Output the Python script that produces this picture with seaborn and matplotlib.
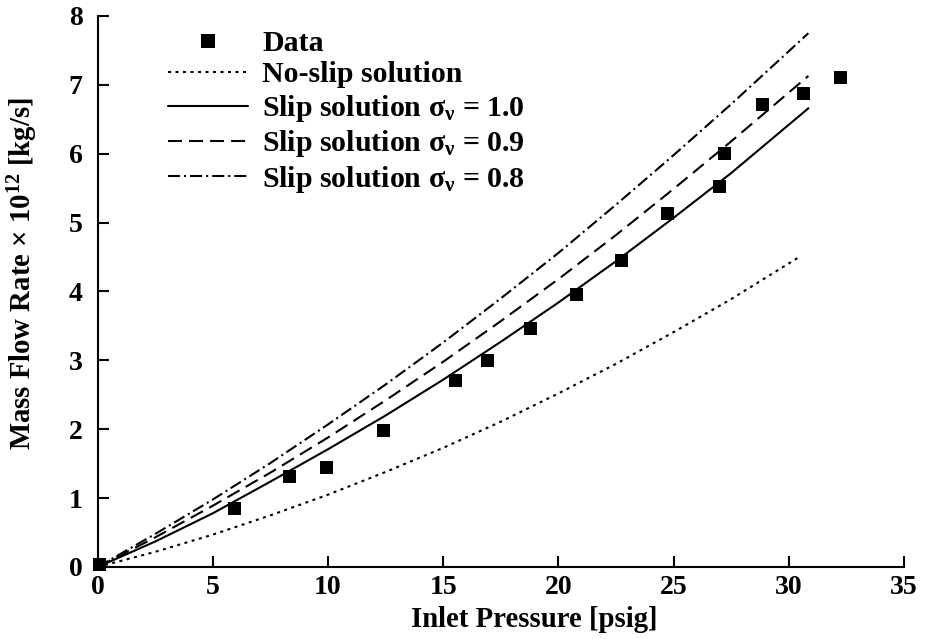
import matplotlib
matplotlib.use("Agg")
import matplotlib.pyplot as plt
from matplotlib.lines import Line2D
import pandas as pd
import seaborn as sns

# Measured mass flow rates
pressure_data = [0.1, 5.95, 8.31, 9.93, 12.39, 15.54, 16.94, 18.80, 20.80,
                 22.75, 24.74, 27.00, 27.22, 28.86, 30.64, 32.25]
flow_data = [0.03, 0.85, 1.31, 1.44, 1.98, 2.71, 3.00, 3.46, 3.95,
             4.45, 5.13, 5.53, 6.00, 6.71, 6.87, 7.11]

# Model curves
pressure_noslip = [0, 2.5, 5, 7.5, 10, 12.5, 15, 17.5, 20, 22.5, 25, 27.5, 30.4]
flow_noslip = [0, 0.22, 0.47, 0.75, 1.05, 1.38, 1.73, 2.11, 2.52, 2.95, 3.41, 3.89, 4.49]

pressure_slip = [0, 2.5, 5, 7.5, 10, 12.5, 15, 17.5, 20, 22.5, 25, 27.5, 30.85]
flow_slip_10 = [0, 0.37, 0.78, 1.24, 1.71, 2.20, 2.72, 3.27, 3.84, 4.44, 5.07, 5.72, 6.66]
flow_slip_09 = [0, 0.43, 0.89, 1.37, 1.88, 2.42, 2.98, 3.57, 4.18, 4.82, 5.49, 6.18, 7.13]
flow_slip_08 = [0, 0.48, 0.98, 1.51, 2.07, 2.65, 3.26, 3.90, 4.56, 5.26, 5.98, 6.72, 7.75]

x_ticks = [0, 5, 10, 15, 20, 25, 30, 35]
y_ticks = [0, 1, 2, 3, 4, 5, 6, 7, 8]

labels = [
    "Data",
    "No-slip solution",
    r"Slip solution σ$_{\mathrm{ν}}$ = 1.0",
    r"Slip solution σ$_{\mathrm{ν}}$ = 0.9",
    r"Slip solution σ$_{\mathrm{ν}}$ = 0.8",
]

sns.set_theme(style="ticks")
plt.rcParams["font.family"] = ["Liberation Serif", "DejaVu Serif"]
plt.rcParams["font.weight"] = "bold"
plt.rcParams["axes.labelweight"] = "bold"
plt.rcParams["mathtext.fontset"] = "custom"
plt.rcParams["mathtext.rm"] = "Liberation Serif:bold"
plt.rcParams["mathtext.it"] = "Liberation Serif:italic:bold"
plt.rcParams["mathtext.bf"] = "Liberation Serif:bold"
for key in ("text.color", "axes.labelcolor", "xtick.color", "ytick.color",
            "axes.edgecolor"):
    plt.rcParams[key] = "black"

FS = 20
LEG_FS = 21.5
LW = 1.5

fig = plt.figure(figsize=(9.52, 6.39), dpi=100)
ax = fig.add_axes([0.1026, 0.1127, 0.8470, 0.8623])

styles = [
    (pressure_noslip, flow_noslip, (1.45, 2.15)),
    (pressure_slip, flow_slip_10, None),
    (pressure_slip, flow_slip_09, (6.7, 3.4)),
    (pressure_slip, flow_slip_08, (5.8, 1.9, 1.0, 1.9)),
]
handles = []
for xs, ys, dash in styles:
    df = pd.DataFrame({"p": xs, "m": ys})
    sns.lineplot(data=df, x="p", y="m", ax=ax, color="black", linewidth=LW,
                 estimator=None, sort=True)
    line = ax.lines[-1]
    h = Line2D([], [], color="black", linewidth=LW)
    if dash:
        line.set_dashes(dash)
        h.set_dashes(dash)
    handles.append(h)

df_data = pd.DataFrame({"p": pressure_data, "m": flow_data})
sns.scatterplot(data=df_data, x="p", y="m", ax=ax, marker="s", s=88,
                color="black", edgecolor="none", linewidth=0, clip_on=False,
                zorder=5)

data_handle = Line2D([], [], color="black", marker="s", markersize=9.4,
                     markeredgewidth=0, linestyle="none")
ax.legend([data_handle] + handles, labels, loc="upper left",
          bbox_to_anchor=(168 / 952, 1 - 30 / 639), bbox_transform=fig.transFigure,
          frameon=False, fontsize=LEG_FS, handlelength=2.68, handletextpad=0.47,
          labelspacing=0.15, borderaxespad=0, borderpad=0)

ax.set_xlim(0, 35)
ax.set_ylim(0, 8)
ax.set_xticks(x_ticks)
ax.set_yticks(y_ticks)
ax.tick_params(direction="in", length=8, width=1.5, labelsize=FS, colors="black")
ax.tick_params(axis="y", pad=11)
ax.tick_params(axis="x", pad=6)
for lab in ax.get_xticklabels() + ax.get_yticklabels():
    lab.set_fontweight("bold")

sns.despine(ax=ax)
for side in ("left", "bottom"):
    ax.spines[side].set_linewidth(1.5)
    ax.spines[side].set_color("black")

ax.set_xlabel("Inlet Pressure [psig]", fontsize=20.7, fontweight="bold")
ax.set_ylabel(r"Mass Flow Rate × 10$^{\mathrm{12}}$ [kg/s]", fontsize=20.7,
              fontweight="bold")
ax.xaxis.set_label_coords(0.542, -0.07)
ax.yaxis.set_label_coords(-0.0716, 0.532)

fig.savefig("out.png", dpi=100)
